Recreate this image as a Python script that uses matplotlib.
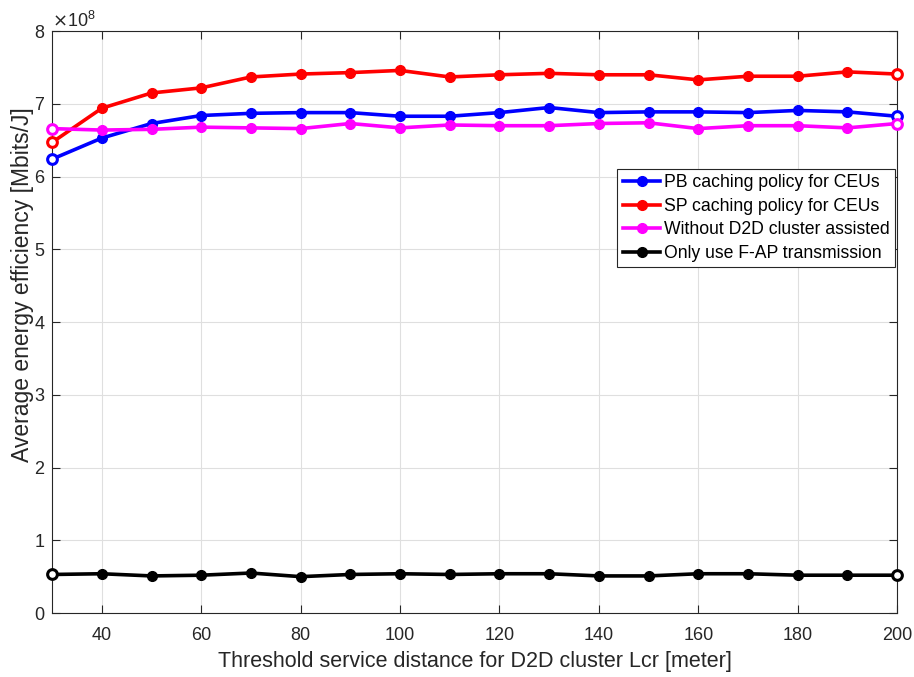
import matplotlib
matplotlib.use('Agg')
import matplotlib.pyplot as plt
from matplotlib.ticker import ScalarFormatter

plt.rcParams['font.family'] = ['Liberation Sans', 'DejaVu Sans']

# threshold service distance Lcr [meter]
distance = [30, 40, 50, 60, 70, 80, 90, 100, 110, 120, 130, 140, 150, 160, 170, 180, 190, 200]

# average energy efficiency [Mbits/J]
pb_caching = [6.24e8, 6.53e8, 6.73e8, 6.84e8, 6.87e8, 6.88e8, 6.88e8, 6.83e8, 6.83e8,
              6.88e8, 6.95e8, 6.88e8, 6.89e8, 6.89e8, 6.88e8, 6.91e8, 6.89e8, 6.83e8]
sp_caching = [6.47e8, 6.94e8, 7.15e8, 7.22e8, 7.37e8, 7.41e8, 7.43e8, 7.46e8, 7.37e8,
              7.40e8, 7.42e8, 7.40e8, 7.40e8, 7.33e8, 7.38e8, 7.38e8, 7.44e8, 7.41e8]
no_d2d = [6.66e8, 6.64e8, 6.65e8, 6.68e8, 6.67e8, 6.66e8, 6.73e8, 6.67e8, 6.71e8,
          6.70e8, 6.70e8, 6.73e8, 6.74e8, 6.66e8, 6.70e8, 6.70e8, 6.67e8, 6.73e8]
fap_only = [0.53e8, 0.54e8, 0.51e8, 0.52e8, 0.55e8, 0.50e8, 0.53e8, 0.54e8, 0.53e8,
            0.54e8, 0.54e8, 0.51e8, 0.51e8, 0.54e8, 0.54e8, 0.52e8, 0.52e8, 0.52e8]

series = [
    (pb_caching, '#0000ff', 'PB caching policy for CEUs'),
    (sp_caching, '#ff0000', 'SP caching policy for CEUs'),
    (no_d2d, '#ff00ff', 'Without D2D cluster assisted'),
    (fap_only, '#000000', 'Only use F-AP transmission'),
]

fig = plt.figure(figsize=(9.14, 6.77), dpi=100)
ax = fig.add_axes([0.057, 0.0945, 0.9245, 0.8595])

for values, color, label in series:
    ax.plot(distance, values, '-o', color=color, lw=2.6, ms=7, label=label,
            markevery=list(range(1, len(distance) - 1)), clip_on=False, zorder=3)
    # hollow markers at the axis limits
    ax.plot([distance[0], distance[-1]], [values[0], values[-1]], 'o', ms=7,
            mfc='white', mec=color, mew=2.2, clip_on=False, zorder=4)

ax.set_xlim(30, 200)
ax.set_ylim(0, 8e8)
ax.set_xticks(range(40, 201, 20))
ax.set_yticks([i * 1e8 for i in range(9)])

fmt = ScalarFormatter(useMathText=True)
fmt.set_powerlimits((0, 0))
ax.yaxis.set_major_formatter(fmt)
ax.yaxis.get_offset_text().set_fontsize(13)
ax.yaxis.get_offset_text().set_color('#262626')

ax.grid(True, color='#dfdfdf', lw=0.8)
ax.set_axisbelow(True)
ax.tick_params(direction='in', top=True, right=True, labelsize=13, colors='#262626',
               length=6, width=0.8)
ax.tick_params(axis='x', pad=10)
ax.tick_params(axis='y', pad=5)
for sp in ax.spines.values():
    sp.set_color('#262626')
    sp.set_linewidth(0.8)

ax.set_xlabel('Threshold service distance for D2D cluster Lcr [meter]', fontsize=15.5,
              color='#262626', labelpad=5)
ax.set_ylabel('Average energy efficiency [Mbits/J]', fontsize=16.5, color='#262626')
ax.yaxis.set_label_coords(-0.021, 0.5636)

leg = ax.legend(loc='upper right', bbox_to_anchor=(0.9976, 0.763), fontsize=12.7,
                fancybox=False, edgecolor='#262626', framealpha=1, handlelength=2.15,
                handletextpad=0.2, borderpad=0.3, labelspacing=0.37, borderaxespad=0)
leg.get_frame().set_linewidth(0.8)

fig.savefig('out.png', dpi=100)
